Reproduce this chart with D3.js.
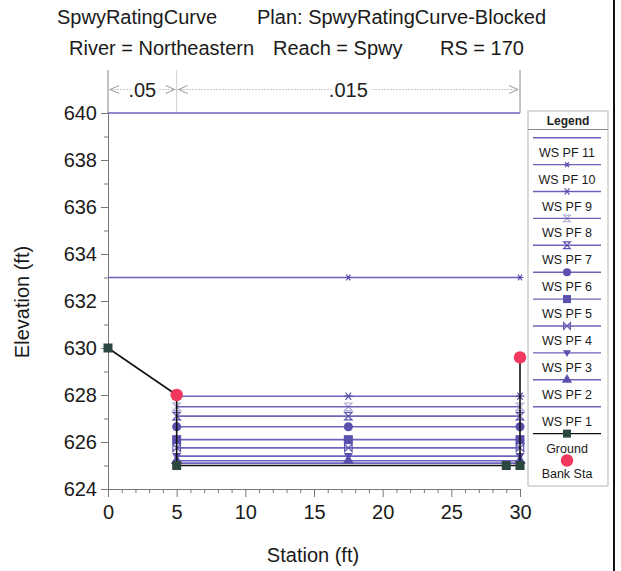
<!DOCTYPE html>
<html><head><meta charset="utf-8">
<script src="https://cdn.jsdelivr.net/npm/d3@7"></script>
<style>
body{margin:0;background:#fff}
svg{display:block;font-family:"Liberation Sans",Arial,sans-serif}
</style>
</head><body>
<svg id="chart" width="621" height="571"></svg>
<script>
// Titles
const titleLine1 = ["SpwyRatingCurve", "Plan: SpwyRatingCurve-Blocked"];
const titleLine2 = ["River = Northeastern", "Reach = Spwy", "RS = 170"];

// Axis ticks
const xTicks = [0, 5, 10, 15, 20, 25, 30];
const yTicks = [624, 626, 628, 630, 632, 634, 636, 638, 640];

// Ground profile (station, elevation)
const groundStation = [0, 5, 5, 29, 30, 30];
const groundElev = [630, 628, 625, 625, 625, 629.6];

// Bank stations
const bankStation = [5, 30];
const bankElev = [628, 629.6];

// Manning's n breaks
const nBreaks = [0, 5, 30];
const nValues = [".05", ".015"];

// Water surface profiles
const wsNames = ["WS PF 11", "WS PF 10", "WS PF 9", "WS PF 8", "WS PF 7", "WS PF 6", "WS PF 5", "WS PF 4", "WS PF 3", "WS PF 2", "WS PF 1"];
const wsElev = [640, 633, 627.95, 627.5, 627.1, 626.65, 626.1, 625.75, 625.4, 625.2, 625.1];
const wsLeft = [0, 0, 5, 5, 5, 5, 5, 5, 5, 5, 5];
const wsRight = [30, 30, 30, 30, 30, 30, 30, 30, 30, 30, 30];
const wsMarkerStations = [5, 17.5, 30];
const wsSymbols = ["none", "asteriskSmall", "asterisk", "hourglassLight", "hourglass", "circle", "square", "bowtie", "triangleDown", "triangleUp", "none"];

const svg = d3.select("#chart");
const W = 621, H = 571;
const wsColor = "#6c63bb", wsMark = "#5a50ae";
const groundColor = "#111", groundMark = "#2c4641";
const bankColor = "#f2395d";
const textColor = "#1a1a1a";

const x = d3.scaleLinear().domain([0, 30]).range([108, 520]);
const y = d3.scaleLinear().domain([624, 640]).range([489, 113]);

// Titles
const t1 = svg.append("g").attr("font-size", 20).attr("fill", textColor);
t1.append("text").attr("x", 57).attr("y", 24).text(titleLine1[0]);
t1.append("text").attr("x", 257).attr("y", 24).text(titleLine1[1]);
const t2 = svg.append("g").attr("font-size", 20).attr("fill", textColor);
t2.append("text").attr("x", 69).attr("y", 55).text(titleLine2[0]);
t2.append("text").attr("x", 273).attr("y", 55).text(titleLine2[1]);
t2.append("text").attr("x", 440).attr("y", 55).text(titleLine2[2]);

// Manning's n bar
const nY = 89.5;
const nG = svg.append("g");
nG.append("line").attr("x1", x(0)).attr("x2", x(30)).attr("y1", nY).attr("y2", nY)
  .attr("stroke", "#c8c8c8").attr("stroke-width", 1).attr("stroke-dasharray", "2,1");
nBreaks.forEach((b, i) => {
  nG.append("line").attr("x1", x(b)).attr("x2", x(b)).attr("y1", 70).attr("y2", y(640))
    .attr("stroke", i === 1 ? "#cfcfcf" : "#888").attr("stroke-width", 1);
});
nValues.forEach((v, i) => {
  const cx = (x(nBreaks[i]) + x(nBreaks[i + 1])) / 2;
  nG.append("text").attr("x", cx).attr("y", nY + 7).attr("text-anchor", "middle")
    .attr("font-size", 20).attr("fill", "#222")
    .attr("stroke", "#fff").attr("stroke-width", 8).attr("paint-order", "stroke").text(v);
  // chevrons marking each segment's ends
  const a = x(nBreaks[i]) + 2, b = x(nBreaks[i + 1]) - 2;
  nG.append("path").attr("d", `M${a + 9},${nY - 4}L${a},${nY}L${a + 9},${nY + 4}`)
    .attr("fill", "none").attr("stroke", "#999").attr("stroke-width", 1);
  nG.append("path").attr("d", `M${b - 9},${nY - 4}L${b},${nY}L${b - 9},${nY + 4}`)
    .attr("fill", "none").attr("stroke", "#999").attr("stroke-width", 1);
});

// Axes
const axisColor = "#777";
const xAxis = svg.append("g").attr("transform", `translate(0,${y(624)})`)
  .call(d3.axisBottom(x).tickValues(xTicks).tickSize(8).tickPadding(8).tickFormat(d3.format("d")));
const xMinor = svg.append("g").attr("transform", `translate(0,${y(624)})`)
  .call(d3.axisBottom(x).tickValues(d3.range(0, 31, 1).filter(d => d % 5 !== 0)).tickSize(4).tickFormat(""));
const yAxis = svg.append("g").attr("transform", `translate(${x(0)},0)`)
  .call(d3.axisLeft(y).tickValues(yTicks).tickSize(7).tickPadding(4).tickFormat(d3.format("d")));
const yMinor = svg.append("g").attr("transform", `translate(${x(0)},0)`)
  .call(d3.axisLeft(y).tickValues(d3.range(625, 640, 2)).tickSize(4).tickFormat(""));
[xAxis, xMinor, yAxis, yMinor].forEach(g => {
  g.selectAll("path.domain").attr("stroke", axisColor);
  g.selectAll(".tick line").attr("stroke", axisColor);
  g.selectAll("text").attr("font-size", 20).attr("fill", textColor)
    .attr("font-family", "Liberation Sans, Arial, sans-serif");
});
xMinor.select("path.domain").remove();
yMinor.select("path.domain").remove();

svg.append("text").attr("x", 313).attr("y", 562).attr("text-anchor", "middle")
  .attr("font-size", 20).attr("fill", textColor).text("Station (ft)");
svg.append("text").attr("transform", `translate(29,302) rotate(-90)`).attr("text-anchor", "middle")
  .attr("font-size", 20).attr("fill", textColor).text("Elevation (ft)");

// Symbol paths
function symbolPath(kind, s) {
  switch (kind) {
    case "circle": return d3.symbol(d3.symbolCircle, s * s * 0.8)();
    case "square": return d3.symbol(d3.symbolSquare, s * s)();
    case "triangleUp": return d3.symbol(d3.symbolTriangle, s * s * 0.7)();
    case "triangleDown": return `M${-s / 2},${-s / 3}L${s / 2},${-s / 3}L0,${s / 2}Z`;
    case "asterisk": case "asteriskSmall": {
      const r = kind === "asterisk" ? s / 2 : s / 2.6;
      return `M${-r},0L${r},0M${-r * 0.6},${-r * 0.8}L${r * 0.6},${r * 0.8}M${-r * 0.6},${r * 0.8}L${r * 0.6},${-r * 0.8}`;
    }
    case "hourglass": case "hourglassLight": {
      const r = s / 2.4;
      return `M${-r},${-r}L${r},${-r}L${-r},${r}L${r},${r}Z`;
    }
    case "bowtie": {
      const r = s / 2.4;
      return `M${-r},${-r}L${r},${r}L${r},${-r}L${-r},${r}Z`;
    }
    default: return null;
  }
}
function drawSymbol(g, kind, cx, cy, size) {
  const d = symbolPath(kind, size);
  if (!d) return;
  const stroked = kind.startsWith("asterisk") || kind.startsWith("hourglass") || kind === "bowtie";
  g.append("path").attr("d", d).attr("transform", `translate(${cx},${cy})`)
    .attr("fill", stroked ? "none" : wsMark)
    .attr("stroke", wsMark)
    .attr("stroke-width", stroked ? 1.2 : 0)
    .attr("opacity", kind === "hourglassLight" ? 0.45 : 1);
}

// Water surface lines
const wsG = svg.append("g");
wsNames.forEach((name, i) => {
  wsG.append("line").attr("x1", x(wsLeft[i])).attr("x2", x(wsRight[i]))
    .attr("y1", y(wsElev[i])).attr("y2", y(wsElev[i]))
    .attr("stroke", wsColor).attr("stroke-width", 1.6);
});
wsNames.forEach((name, i) => {
  // the left-bank marker only sits on profiles that start at the bank
  wsMarkerStations.filter(s => s === 5 ? wsLeft[i] === 5 : true).forEach(s => {
    drawSymbol(wsG, wsSymbols[i], x(s), y(wsElev[i]), 9);
  });
});

// Ground
const gG = svg.append("g");
gG.append("path")
  .attr("d", d3.line().x(d => x(d[0])).y(d => y(d[1]))(groundStation.map((s, i) => [s, groundElev[i]])))
  .attr("fill", "none").attr("stroke", groundColor).attr("stroke-width", 1.6);
groundStation.forEach((s, i) => {
  gG.append("rect").attr("x", x(s) - 4.5).attr("y", y(groundElev[i]) - 4.5)
    .attr("width", 9).attr("height", 9).attr("fill", groundMark);
});

// Bank stations
bankStation.forEach((s, i) => {
  svg.append("circle").attr("cx", x(s)).attr("cy", y(bankElev[i])).attr("r", 6.2).attr("fill", bankColor);
});

// Legend
const lg = svg.append("g");
const lx0 = 528, lx1 = 608, ly0 = 111, ly1 = 486;
lg.append("rect").attr("x", lx0).attr("y", ly0).attr("width", lx1 - lx0).attr("height", ly1 - ly0)
  .attr("fill", "#fff").attr("stroke", "#b5b5b5").attr("stroke-width", 1);
lg.append("text").attr("x", (lx0 + lx1) / 2).attr("y", 124.5).attr("text-anchor", "middle")
  .attr("font-size", 12).attr("font-weight", "bold").attr("fill", "#222").text("Legend");
lg.append("line").attr("x1", lx0).attr("x2", lx1).attr("y1", 129.5).attr("y2", 129.5)
  .attr("stroke", "#888").attr("stroke-width", 1);
const rowH = 26.9, row0 = 137.7, lcx = 567;
wsNames.forEach((name, i) => {
  const ly = row0 + i * rowH;
  lg.append("line").attr("x1", 533).attr("x2", 601).attr("y1", ly).attr("y2", ly)
    .attr("stroke", wsColor).attr("stroke-width", 1.4);
  drawSymbol(lg, wsSymbols[i], lcx, ly, 8);
  lg.append("text").attr("x", lcx).attr("y", ly + 19).attr("text-anchor", "middle")
    .attr("font-size", 12.5).attr("fill", textColor).text(name);
});
{
  const ly = row0 + 11 * rowH;
  lg.append("line").attr("x1", 533).attr("x2", 601).attr("y1", ly).attr("y2", ly)
    .attr("stroke", groundColor).attr("stroke-width", 1.4);
  lg.append("rect").attr("x", lcx - 4).attr("y", ly - 4).attr("width", 8).attr("height", 8).attr("fill", groundMark);
  lg.append("text").attr("x", lcx).attr("y", ly + 19).attr("text-anchor", "middle")
    .attr("font-size", 12.5).attr("fill", textColor).text("Ground");
  const by = row0 + 12 * rowH;
  lg.append("circle").attr("cx", lcx).attr("cy", by).attr("r", 6.2).attr("fill", bankColor);
  lg.append("text").attr("x", lcx).attr("y", by + 17).attr("text-anchor", "middle")
    .attr("font-size", 12.5).attr("fill", textColor).text("Bank Sta");
}

// Right frame edge
svg.append("line").attr("x1", 614).attr("x2", 614).attr("y1", 0).attr("y2", H)
  .attr("stroke", "#111").attr("stroke-width", 2);
</script>
</body></html>
